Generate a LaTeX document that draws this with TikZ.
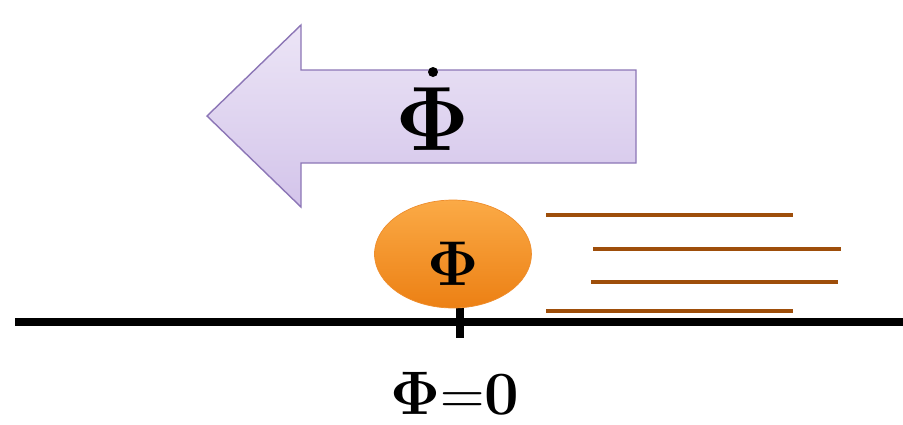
\RequirePackage{fix-cm}
\documentclass[tikz,border=0pt]{standalone}
\usepackage{xcolor}
\definecolor{Lilac}{RGB}{236, 229, 246}
\definecolor{LilacDark}{RGB}{211, 196, 234}
\definecolor{LilacEdge}{RGB}{140, 118, 182}
\definecolor{Tangerine}{RGB}{251, 170, 70}
\definecolor{TangerineDark}{RGB}{236, 128, 20}
\definecolor{Rust}{RGB}{158, 78, 10}
\usetikzlibrary{shapes.geometric}

\begin{document}
\begin{tikzpicture}[
    x=0.02cm, y=-0.02cm,
    flow/.style={draw=LilacEdge, thick, top color=Lilac, bottom color=LilacDark},
    ball/.style={ellipse, minimum width=3.14cm, minimum height=2.16cm, inner sep=0pt,
        draw=TangerineDark!90, top color=Tangerine, bottom color=TangerineDark},
    glyph/.style={inner sep=0pt},
    streak/.style={Rust, line width=2.4pt},
    axis/.style={line width=4.6pt, black}
]
\useasboundingbox (0,0) rectangle (903,424);

% Flow arrow
\draw[flow] (207,116) -- (301,25) -- (301,70) -- (636,70) -- (636,163)
    -- (301,163) -- (301,207) -- cycle;
\node[glyph] (phidot) at (433,119) {\fontsize{52}{60}\selectfont $\mathbf{\Phi}$};
\fill (433,72) circle (0.1cm);

% Ground line and tick
\draw[axis] (15,322) -- (903,322);
\draw[line width=4pt] (460,308) -- (460,338);

% Speed streaks
\foreach \xa/\xb/\y in {546/793/215, 593/841/249, 591/838/282, 546/793/311} {
    \draw[streak] (\xa,\y) -- (\xb,\y);
}

% Ball
\node[ball] (ball) at (453,254) {};
\node[glyph] (phi) at (453,264) {\fontsize{36}{42}\selectfont $\mathbf{\Phi}$};

% Label
\node[glyph] (zero) at (455,393) {\fontsize{35}{40}\selectfont $\mathbf{\Phi}{=}\mathbf{0}$};

\end{tikzpicture}
\end{document}
